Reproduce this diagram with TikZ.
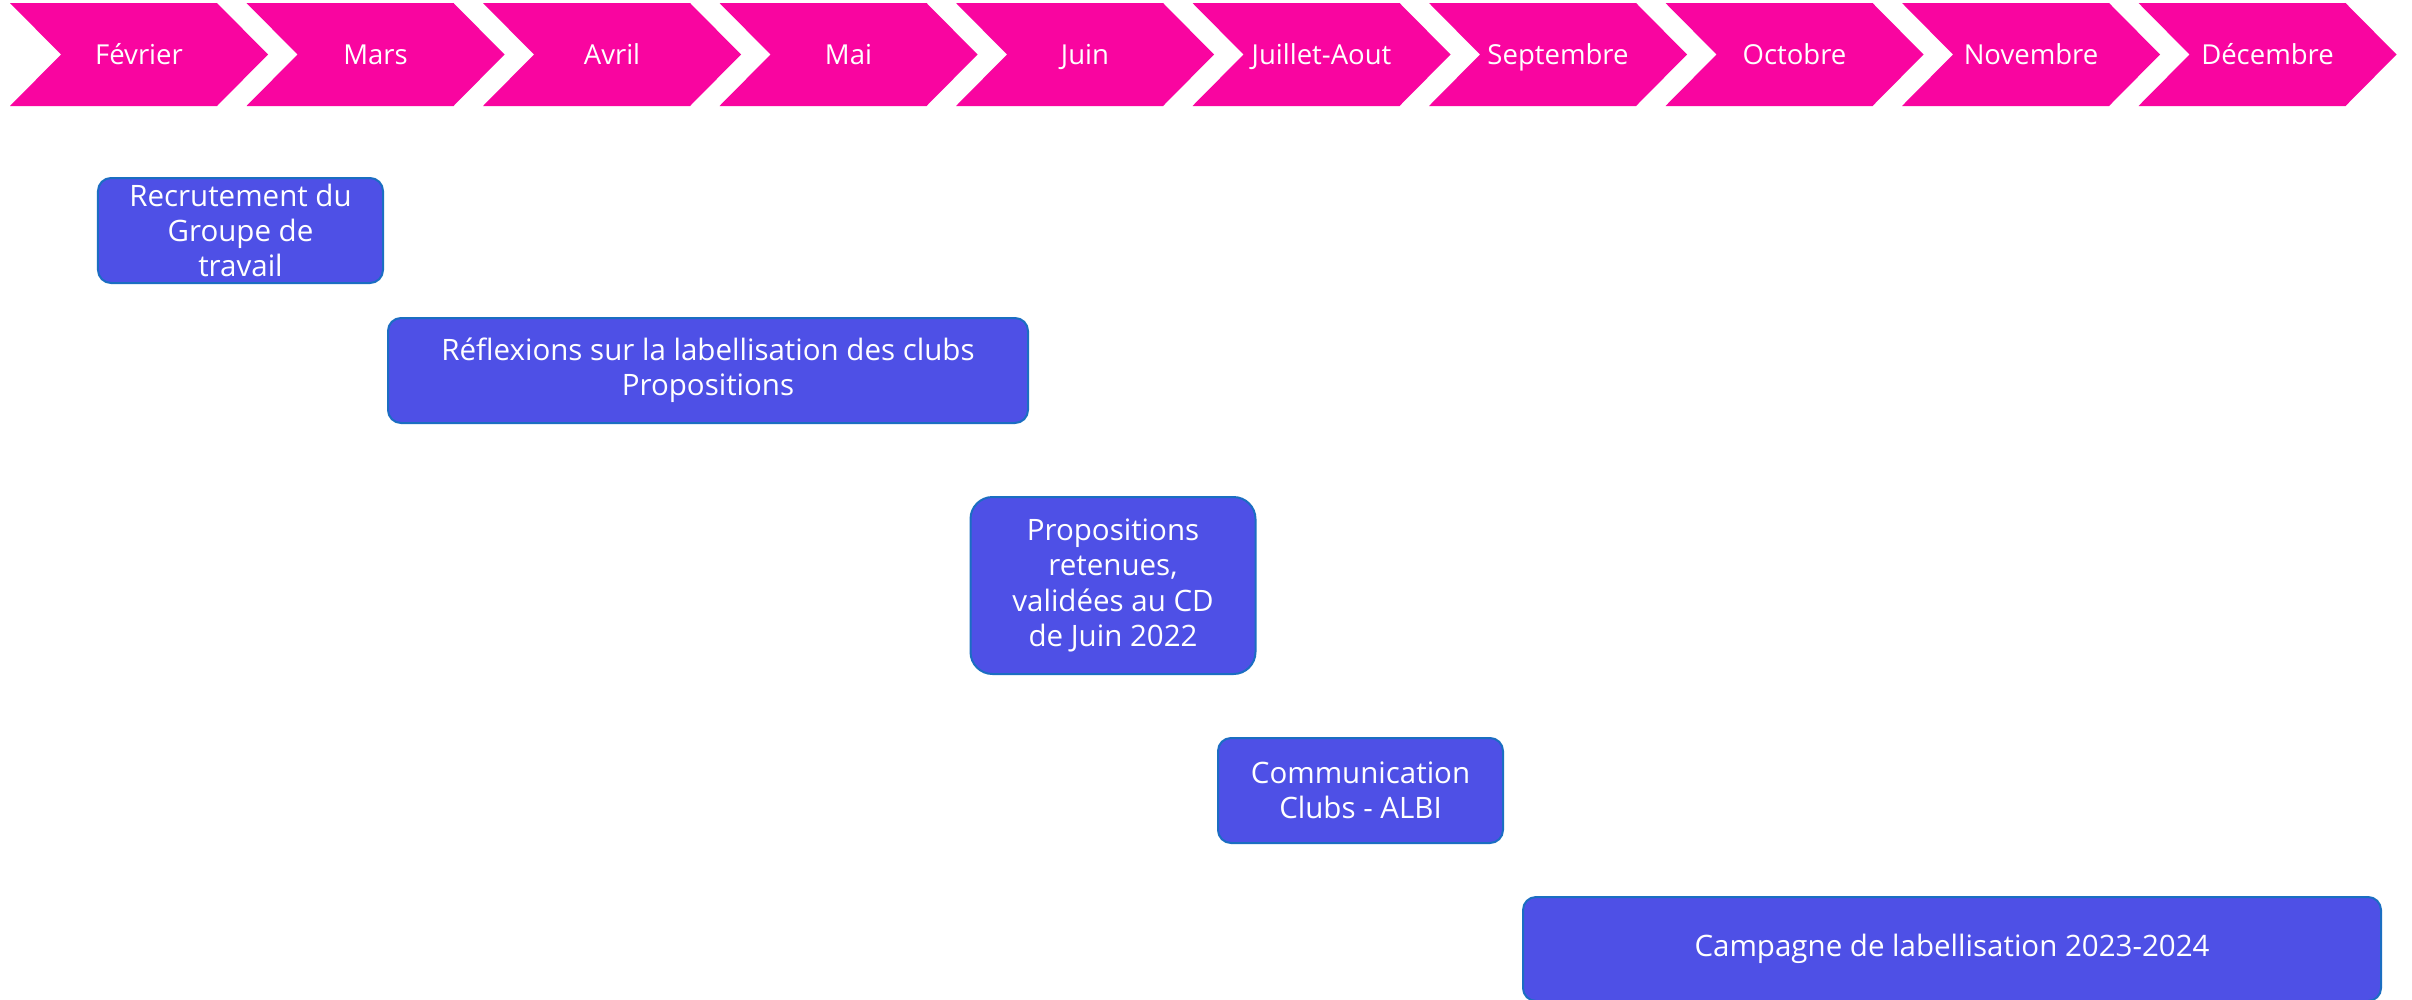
\documentclass[tikz,border=0pt]{standalone}
\usepackage{fontspec}
\setmainfont{Open Sans}
\definecolor{chev}{HTML}{F905A0}
\definecolor{boxfill}{HTML}{4E50E6}
\definecolor{boxline}{HTML}{1B6EC2}
\begin{document}
\begin{tikzpicture}[x=1bp,y=-1bp,
  lab/.style={text=white,font=\fontsize{27.5bp}{33bp}\selectfont,inner sep=0pt,anchor=base},
  task/.style={draw=boxline,fill=boxfill,line width=2bp,text=white,align=center,
    font=\fontsize{29.5bp}{35.4bp}\selectfont,inner sep=0pt,rounded corners=13bp}]
\useasboundingbox[fill=white] (0,0) rectangle (2412,999);
\foreach \m [count=\i from 0] in {Février,Mars,Avril,Mai,Juin,Juillet-Aout,Septembre,Octobre,Novembre,Décembre} {
  \pgfmathsetmacro\L{10+236.5*\i}
  \fill[chev] (\L,3) -- ++(207,0) -- ++(51,51.5) -- ++(-51,51.5) -- ++(-207,0) -- ++(51,-51.5) -- cycle;
  \node[lab] (m\i) at (\L+129,64.5) {\m};
}
\node[task,minimum width=285bp,minimum height=105bp] (b1) at (240.5,230.5) {Recrutement du\\Groupe de\\travail};
\node[task,minimum width=640bp,minimum height=105bp] (b2) at (708,370.5) {Réflexions sur la labellisation des clubs\\Propositions};
\node[task,minimum width=285bp,minimum height=177bp,rounded corners=22bp] (b3) at (1113,585.5) {Propositions\\retenues,\\validées au CD\\de Juin 2022};
\node[task,minimum width=285bp,minimum height=105bp] (b4) at (1360.5,790.5) {Communication\\Clubs - ALBI};
\node[task,minimum width=858bp,minimum height=104bp] (b5) at (1952,949) {Campagne de labellisation 2023-2024};
\end{tikzpicture}
\end{document}
